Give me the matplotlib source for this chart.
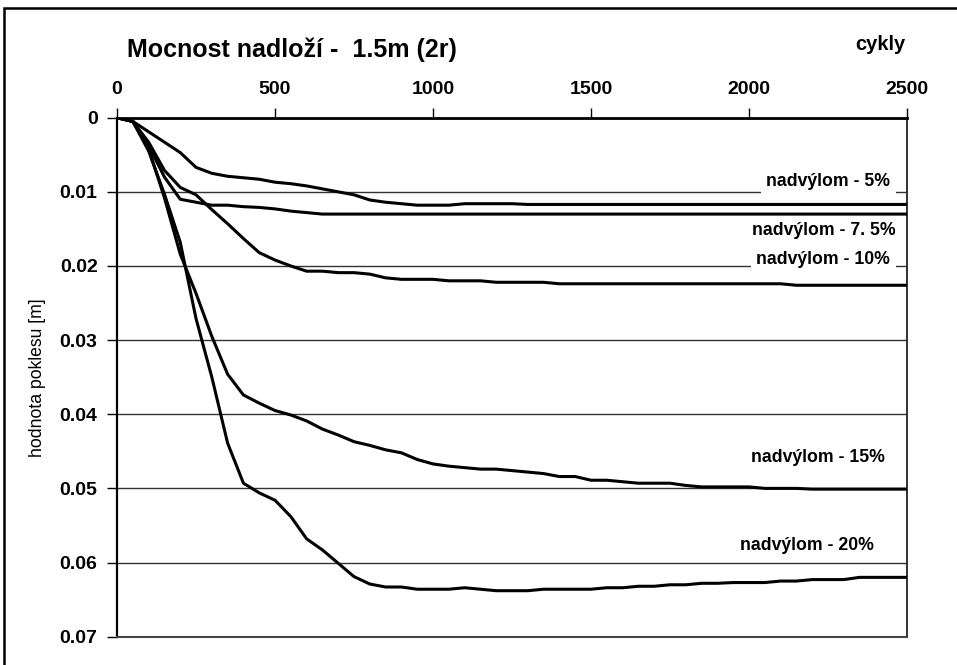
#!/usr/bin/env python3
import matplotlib
matplotlib.use('Agg')
import matplotlib.pyplot as plt
from matplotlib.patches import Rectangle

plt.rcParams['font.family'] = ['Liberation Sans', 'DejaVu Sans']

# cykly (x) a pokles [m] pro jednotlive nadvylomy
x_5 = [0, 50, 100, 150, 200, 250, 300, 350, 400, 450, 500, 550, 600, 650, 700,
       750, 800, 850, 900, 950, 1000, 1050, 1100, 1150, 1200, 1250, 1300, 2500]
y_5 = [0, 0.0005, 0.0019, 0.0033, 0.0047, 0.0067, 0.0075, 0.0079, 0.0081, 0.0083,
       0.0087, 0.0089, 0.0092, 0.0096, 0.0100, 0.0104, 0.0111, 0.0114, 0.0116,
       0.0118, 0.0118, 0.0118, 0.0116, 0.0116, 0.0116, 0.0116, 0.0117, 0.0117]

x_75 = [0, 50, 100, 150, 200, 250, 300, 350, 400, 450, 500, 550, 600, 650, 2500]
y_75 = [0, 0.0005, 0.0038, 0.0080, 0.0110, 0.0114, 0.0118, 0.0118, 0.0120, 0.0121,
        0.0123, 0.0126, 0.0128, 0.0130, 0.0130]

x_10 = [0, 50, 100, 150, 200, 250, 300, 350, 400, 450, 500, 550, 600, 650, 700,
        750, 800, 850, 900, 950, 1000, 1050, 1100, 1150, 1200, 1350, 1400, 2100,
        2150, 2500]
y_10 = [0, 0.0005, 0.0033, 0.0071, 0.0094, 0.0104, 0.0124, 0.0143, 0.0163, 0.0182,
        0.0192, 0.0200, 0.0207, 0.0207, 0.0209, 0.0209, 0.0211, 0.0216, 0.0218,
        0.0218, 0.0218, 0.0220, 0.0220, 0.0220, 0.0222, 0.0222, 0.0224, 0.0224,
        0.0226, 0.0226]

x_15 = [0, 50, 100, 150, 200, 250, 300, 350, 400, 450, 500, 550, 600, 650, 700,
        750, 800, 850, 900, 950, 1000, 1050, 1100, 1150, 1200, 1250, 1300, 1350,
        1400, 1450, 1500, 1550, 1600, 1650, 1700, 1750, 1800, 1850, 1900, 1950,
        2000, 2050, 2100, 2150, 2200, 2500]
y_15 = [0, 0.0005, 0.0042, 0.0108, 0.0184, 0.0237, 0.0295, 0.0346, 0.0374, 0.0385,
        0.0395, 0.0401, 0.0409, 0.0420, 0.0428, 0.0437, 0.0442, 0.0448, 0.0452,
        0.0461, 0.0467, 0.0470, 0.0472, 0.0474, 0.0474, 0.0476, 0.0478, 0.0480,
        0.0484, 0.0484, 0.0489, 0.0489, 0.0491, 0.0493, 0.0493, 0.0493, 0.0496,
        0.0498, 0.0498, 0.0498, 0.0498, 0.0500, 0.0500, 0.0500, 0.0501, 0.0501]

x_20 = [0, 50, 100, 150, 200, 250, 300, 350, 400, 450, 500, 550, 600, 650, 700,
        750, 800, 850, 900, 950, 1000, 1050, 1100, 1150, 1200, 1250, 1300, 1350,
        1500, 1550, 1600, 1650, 1700, 1750, 1800, 1850, 1900, 1950, 2050, 2100,
        2150, 2200, 2300, 2350, 2500]
y_20 = [0, 0.0005, 0.0045, 0.0103, 0.0168, 0.0271, 0.0350, 0.0439, 0.0493, 0.0506,
        0.0516, 0.0538, 0.0568, 0.0583, 0.0601, 0.0619, 0.0629, 0.0633, 0.0633,
        0.0636, 0.0636, 0.0636, 0.0634, 0.0636, 0.0638, 0.0638, 0.0638, 0.0636,
        0.0636, 0.0634, 0.0634, 0.0632, 0.0632, 0.0630, 0.0630, 0.0628, 0.0628,
        0.0627, 0.0627, 0.0625, 0.0625, 0.0623, 0.0623, 0.0620, 0.0620]

labels = ['nadvýlom - 5%', 'nadvýlom - 7. 5%', 'nadvýlom - 10%',
          'nadvýlom - 15%', 'nadvýlom - 20%']
label_x = [2251, 2238, 2235, 2219, 2185]
label_y = [0.00854, 0.01516, 0.01907, 0.0458, 0.0577]

x_ticks = [0, 500, 1000, 1500, 2000, 2500]
y_ticks = [0, 0.01, 0.02, 0.03, 0.04, 0.05, 0.06, 0.07]
y_ticklabels = ['0', '0.01', '0.02', '0.03', '0.04', '0.05', '0.06', '0.07']

fig = plt.figure(figsize=(9.57, 6.65), dpi=100)
ax = fig.add_axes([0.1223, 0.0426, 0.8254, 0.7804])

# vnejsi ramecek (orezany vpravo a dole)
fig.patches.append(Rectangle((4 / 957, -0.1), 1.2, 1 - 8 / 665 + 0.1,
                             transform=fig.transFigure, fill=False,
                             edgecolor='black', linewidth=1.8))

for xs, ys in [(x_5, y_5), (x_75, y_75), (x_10, y_10), (x_15, y_15), (x_20, y_20)]:
    ax.plot(xs, ys, color='black', linewidth=2.2, solid_joinstyle='round', zorder=3)

ax.set_xlim(0, 2500)
ax.set_ylim(0.07, 0)
ax.xaxis.tick_top()
ax.set_xticks(x_ticks)
ax.set_xticklabels([str(v) for v in x_ticks], fontweight='bold', fontsize=14)
ax.set_yticks(y_ticks)
ax.set_yticklabels(y_ticklabels, fontweight='bold', fontsize=14)
ax.tick_params(axis='x', direction='out', length=7, width=1, pad=7, color='black')
ax.tick_params(axis='y', direction='out', length=7, width=1, pad=7, color='black')

ax.yaxis.grid(True, color='#333333', linewidth=1.0, zorder=0)
ax.set_axisbelow(True)

ax.spines['top'].set_linewidth(2.0)
ax.spines['left'].set_linewidth(1.6)
ax.spines['right'].set_linewidth(1.3)
ax.spines['right'].set_color('#222222')
ax.spines['bottom'].set_linewidth(1.5)
ax.spines['bottom'].set_color('#444444')

ax.set_ylabel('hodnota poklesu [m]', fontsize=12.7, labelpad=10)

fig.text(292 / 957, 1 - 50 / 665, 'Mocnost nadloží -  1.5m (2r)', fontsize=18,
         fontweight='bold', ha='center', va='center')
fig.text(880 / 957, 1 - 44 / 665, 'cykly', fontsize=14.5, fontweight='bold',
         ha='center', va='center')

for t, lx, ly in zip(labels, label_x, label_y):
    ax.text(lx, ly, t, fontsize=12.7, fontweight='bold', ha='center', va='center',
            zorder=4, bbox=dict(facecolor='white', edgecolor='none', pad=4))

fig.savefig('out.png', dpi=100)
